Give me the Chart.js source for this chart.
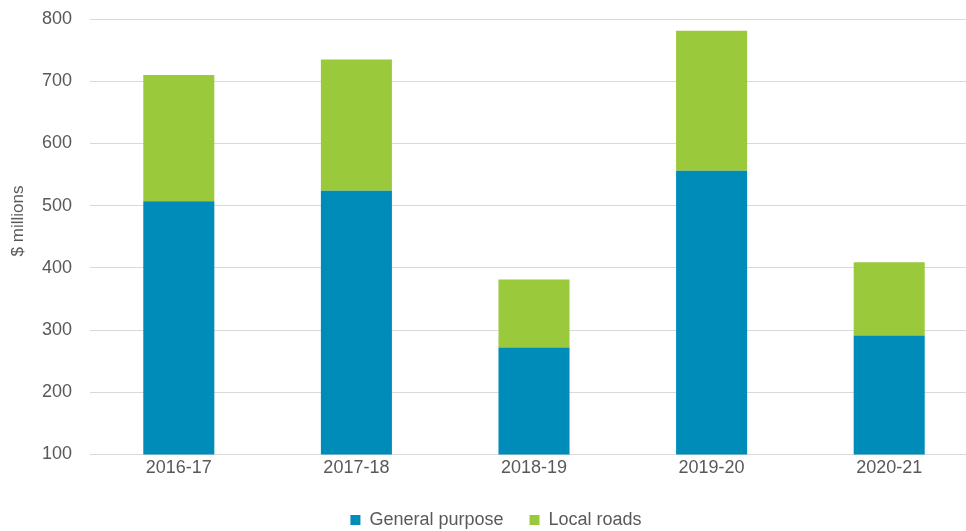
<!DOCTYPE html>
<html>
<head>
<meta charset="utf-8">
<script src="https://cdn.jsdelivr.net/npm/chart.js@4"></script>
<style>
    html, body { margin: 0; padding: 0; background: #fff; overflow: hidden; }
    #wrap { width: 980px; height: 531px; }
</style>
</head>
<body>
<div id="wrap"><canvas id="grants" width="980" height="531"></canvas></div>
<script>
// Grant payments by year, $ millions
const years = ['2016-17', '2017-18', '2018-19', '2019-20', '2020-21'];
const generalPurpose = [507, 524, 272, 556, 291];
const localRoads = [203, 211, 109, 225, 118];
const yTicks = [100, 200, 300, 400, 500, 600, 700, 800];
const yTitle = '$ millions';

const textGrey = '#595959';
const gridGrey = '#d9d9d9';
const font = { family: 'Arial, "Liberation Sans", sans-serif', size: 18 };

// axis title sits a little above the middle of the plot, so draw it by hand
const yTitlePlugin = {
    id: 'yTitle',
    afterDraw(chart) {
        const ctx = chart.ctx;
        ctx.save();
        ctx.translate(18, 221);
        ctx.rotate(-Math.PI / 2);
        ctx.font = '17px ' + font.family;
        ctx.fillStyle = textGrey;
        ctx.textAlign = 'center';
        ctx.textBaseline = 'middle';
        ctx.fillText(yTitle, 0, 0);
        ctx.restore();
    },
};

new Chart(document.getElementById('grants').getContext('2d'), {
    type: 'bar',
    data: {
        labels: years,
        datasets: [{
            label: 'General purpose',
            data: generalPurpose,
            backgroundColor: '#008cb8',
            barPercentage: 0.4,
            categoryPercentage: 1,
        }, {
            label: 'Local roads',
            data: localRoads,
            backgroundColor: '#9bc93c',
            barPercentage: 0.4,
            categoryPercentage: 1,
        }],
    },
    plugins: [yTitlePlugin],
    options: {
        responsive: false,
        animation: false,
        layout: { padding: { top: 19, right: 2, left: 14, bottom: -8 } },
        plugins: {
            tooltip: { enabled: false },
            legend: {
                position: 'bottom',
                labels: {
                    color: textGrey,
                    font: font,
                    boxWidth: 10,
                    boxHeight: 10,
                    padding: 26,
                },
            },
        },
        scales: {
            x: {
                stacked: true,
                grid: { display: false, drawTicks: false },
                border: { color: gridGrey, width: 1 },
                ticks: { color: textGrey, font: font, padding: 3 },
                afterFit: (scale) => { scale.height += 3; },
            },
            y: {
                stacked: true,
                min: yTicks[0],
                max: yTicks[yTicks.length - 1],
                afterBuildTicks: (scale) => {
                    scale.ticks = yTicks.map(v => ({ value: v }));
                },
                afterFit: (scale) => {
                    scale.width = 76;
                    scale.paddingTop = 0;
                },
                grid: { color: gridGrey, lineWidth: 1, drawTicks: false },
                border: { display: false },
                ticks: { color: textGrey, font: font, padding: 18 },
            },
        },
    },
});
</script>
</body>
</html>
